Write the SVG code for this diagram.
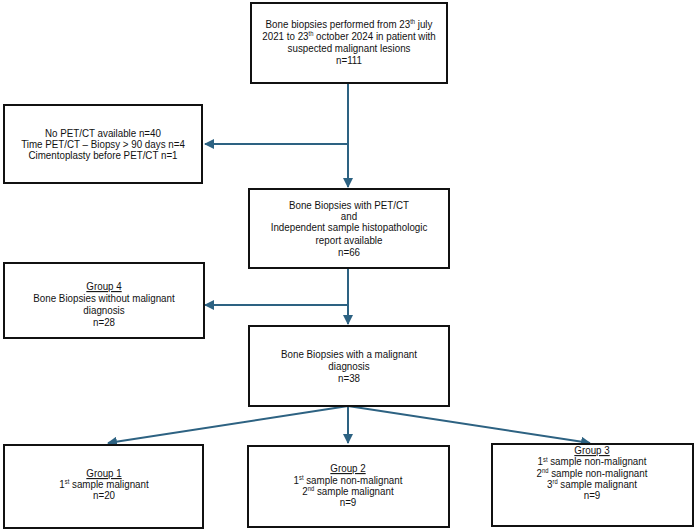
<svg xmlns="http://www.w3.org/2000/svg" width="698" height="531" viewBox="0 0 698 531">
  <style>
    .box { fill: #ffffff; stroke: #111111; stroke-width: 2; }
    .lbl { font-family: "Liberation Sans", Arial, sans-serif; font-size: 11px; fill: #111111; text-anchor: middle; }
    .sup { font-size: 6.5px; }
    .u { text-decoration: underline; }
    .conn { fill: none; stroke: #2d6282; stroke-width: 2; }
  </style>
  <defs>
    <marker id="arr" viewBox="0 0 10 10" refX="9" refY="5" markerWidth="5" markerHeight="5" orient="auto" markerUnits="strokeWidth">
      <path d="M0,0 L10,5 L0,10 z" fill="#2d6282"/>
    </marker>
  </defs>
  <rect width="698" height="531" fill="#ffffff"/>

  <g id="connectors">
    <path class="conn" d="M348,83 V187" marker-end="url(#arr)"/>
    <path class="conn" d="M348,144 H205" marker-end="url(#arr)"/>
    <path class="conn" d="M348,268 V324" marker-end="url(#arr)"/>
    <path class="conn" d="M348,305 H205" marker-end="url(#arr)"/>
    <path class="conn" d="M348,406 L108,443" marker-end="url(#arr)"/>
    <path class="conn" d="M348,406 V443" marker-end="url(#arr)"/>
    <path class="conn" d="M348,406 L590,443" marker-end="url(#arr)"/>
  </g>

  <g id="n-all">
    <rect class="box" x="251" y="3" width="196" height="80"/>
    <g transform="translate(349,0) scale(0.89,1)">
      <text class="lbl" x="0" y="28">Bone biopsies performed from 23<tspan class="sup" dy="-4">th</tspan><tspan dy="4"> july</tspan></text>
      <text class="lbl" x="0" y="40">2021 to 23<tspan class="sup" dy="-4">th</tspan><tspan dy="4"> october 2024 in patient with</tspan></text>
      <text class="lbl" x="0" y="52">suspected malignant lesions</text>
      <text class="lbl" x="0" y="64">n=111</text>
    </g>
  </g>

  <g id="n-excluded">
    <rect class="box" x="4" y="105" width="198" height="78"/>
    <g transform="translate(103,0) scale(0.89,1)">
      <text class="lbl" x="0" y="137">No PET/CT available n=40</text>
      <text class="lbl" x="0" y="148">Time PET/CT – Biopsy &gt; 90 days n=4</text>
      <text class="lbl" x="0" y="159">Cimentoplasty before PET/CT n=1</text>
    </g>
  </g>

  <g id="n-petct">
    <rect class="box" x="249" y="189" width="200" height="79"/>
    <g transform="translate(349,0) scale(0.89,1)">
      <text class="lbl" x="0" y="209">Bone Biopsies with PET/CT</text>
      <text class="lbl" x="0" y="220">and</text>
      <text class="lbl" x="0" y="231">Independent sample histopathologic</text>
      <text class="lbl" x="0" y="244">report available</text>
      <text class="lbl" x="0" y="256">n=66</text>
    </g>
  </g>

  <g id="n-group4">
    <rect class="box" x="4" y="263" width="200" height="75"/>
    <g transform="translate(104,0) scale(0.89,1)">
      <text class="lbl u" x="0" y="290">Group 4</text>
      <text class="lbl" x="0" y="302">Bone Biopsies without malignant</text>
      <text class="lbl" x="0" y="314">diagnosis</text>
      <text class="lbl" x="0" y="326">n=28</text>
    </g>
  </g>

  <g id="n-malignant">
    <rect class="box" x="249" y="326" width="200" height="80"/>
    <g transform="translate(349,0) scale(0.89,1)">
      <text class="lbl" x="0" y="358">Bone Biopsies with a malignant</text>
      <text class="lbl" x="0" y="370">diagnosis</text>
      <text class="lbl" x="0" y="382">n=38</text>
    </g>
  </g>

  <g id="n-group1">
    <rect class="box" x="4" y="445" width="199" height="83"/>
    <g transform="translate(104,0) scale(0.89,1)">
      <text class="lbl u" x="0" y="477">Group 1</text>
      <text class="lbl" x="0" y="488">1<tspan class="sup" dy="-4">st</tspan><tspan dy="4"> sample malignant</tspan></text>
      <text class="lbl" x="0" y="499">n=20</text>
    </g>
  </g>

  <g id="n-group2">
    <rect class="box" x="248" y="446" width="201" height="81"/>
    <g transform="translate(348,0) scale(0.89,1)">
      <text class="lbl u" x="0" y="472">Group 2</text>
      <text class="lbl" x="0" y="484">1<tspan class="sup" dy="-4">st</tspan><tspan dy="4"> sample non-malignant</tspan></text>
      <text class="lbl" x="0" y="495">2<tspan class="sup" dy="-4">nd</tspan><tspan dy="4"> sample malignant</tspan></text>
      <text class="lbl" x="0" y="506">n=9</text>
    </g>
  </g>

  <g id="n-group3">
    <rect class="box" x="492" y="444" width="201" height="82"/>
    <g transform="translate(592,0) scale(0.89,1)">
      <text class="lbl u" x="0" y="454">Group 3</text>
      <text class="lbl" x="0" y="465.5">1<tspan class="sup" dy="-3.5">st</tspan><tspan dy="3.5"> sample non-malignant</tspan></text>
      <text class="lbl" x="0" y="477">2<tspan class="sup" dy="-3.5">nd</tspan><tspan dy="3.5"> sample non-malignant</tspan></text>
      <text class="lbl" x="0" y="488">3<tspan class="sup" dy="-3.5">rd</tspan><tspan dy="3.5"> sample malignant</tspan></text>
      <text class="lbl" x="0" y="499">n=9</text>
    </g>
  </g>
</svg>
